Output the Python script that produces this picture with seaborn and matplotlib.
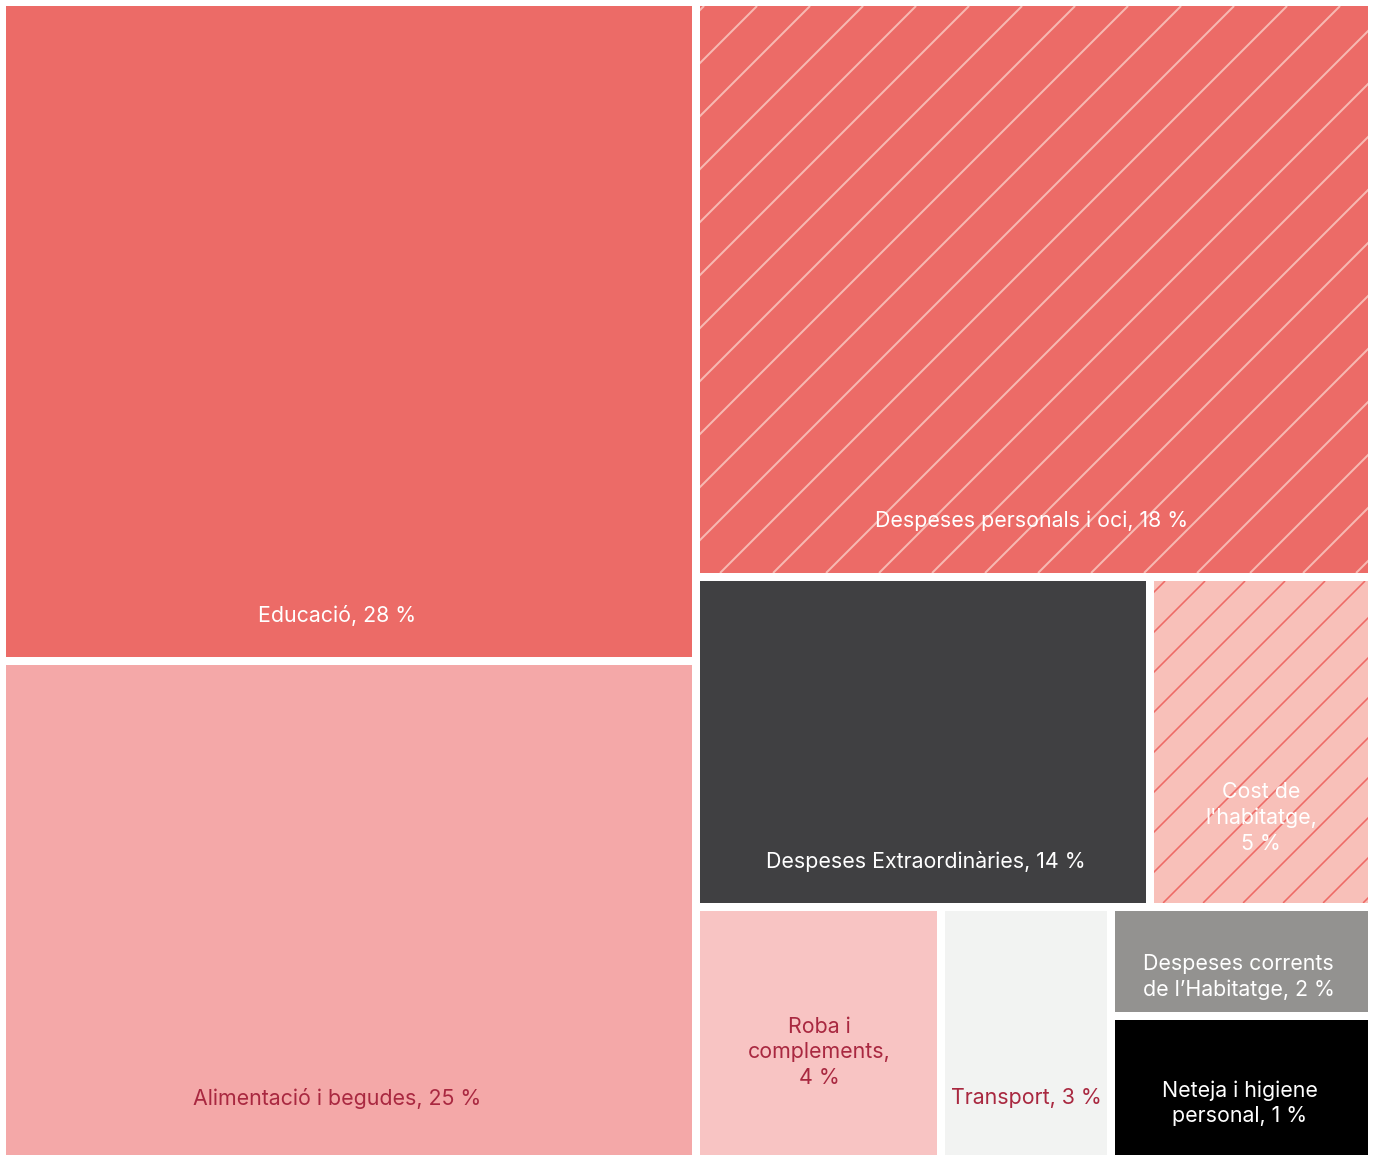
import numpy as np
import pandas as pd
import seaborn as sns
import matplotlib.pyplot as plt
from matplotlib.patches import Rectangle
from matplotlib.collections import LineCollection

# shares of area (percent of the whole block)
categories = ["Educació", "Alimentació i begudes", "Despeses personals i oci",
              "Despeses Extraordinàries", "Cost de\nl'habitatge", "Roba i\ncomplements",
              "Transport", "Despeses corrents\nde l’Habitatge", "Neteja i higiene\npersonal"]
area_share = [28.85, 21.81, 24.52, 9.45, 4.62, 3.90, 2.70, 1.80, 2.35]
pct_label = [28, 25, 18, 14, 5, 4, 3, 2, 1]
pct_sep = [" ", " ", " ", " ", "\n", "\n", " ", " ", " "]

# nesting of the treemap (indices into the lists above), splits alternate x / y
tree = [[0, 1], [2, [3, 4], [5, 6, [7, 8]]]]

fills = ["#EC6B67", "#F4A8A8", "#EC6B67", "#404042", "#F8C0B9",
         "#F8C4C3", "#F2F3F2", "#939290", "#000000"]
# diagonal stripes: (colour, spacing px, width px, phase px)
stripes = {2: ("#F7B9B2", 53, 2.0, 4), 4: ("#EE6A66", 40, 1.6, 11)}
text_cols = ["white", "#A92840", "white", "white", "white",
             "#A92840", "#A92840", "white", "white"]
label_pos = [0.937, 0.885, 0.907, 0.872, 0.735, 0.58, 0.765, 0.655, 0.615]
label_dx = [-12, -12, -2, 3, 0, 1, 0, -3, -2]

df = pd.DataFrame({"cat": categories, "share": area_share, "pct": pct_label})

W, H = 1375, 1155
GAP = 8
DPI = 200


def weight(node):
    if isinstance(node, list):
        return sum(weight(n) for n in node)
    return df["share"][node]


def layout(node, x0, y0, x1, y1, horiz, out):
    if not isinstance(node, list):
        out[node] = (x0, y0, x1, y1)
        return
    total = weight(node)
    pos = x0 if horiz else y0
    for child in node:
        frac = weight(child) / total
        if horiz:
            nxt = pos + (x1 - x0) * frac
            layout(child, pos, y0, nxt, y1, not horiz, out)
        else:
            nxt = pos + (y1 - y0) * frac
            layout(child, x0, pos, x1, nxt, not horiz, out)
        pos = nxt


sns.set_theme(style="white")
plt.rcParams["font.family"] = ["Inter", "DejaVu Sans"]

fig = plt.figure(figsize=(W / DPI, H / DPI), dpi=DPI)
ax = fig.add_axes([0, 0, 1, 1])
ax.set_xlim(0, W)
ax.set_ylim(H, 0)
ax.axis("off")

rects = {}
layout(tree, 2, 2, W - 3, H + 4, True, rects)

for i, row in df.iterrows():
    x0, y0, x1, y1 = rects[i]
    x0, y0, x1, y1 = x0 + GAP / 2, y0 + GAP / 2, x1 - GAP / 2, y1 - GAP / 2
    patch = Rectangle((x0, y0), x1 - x0, y1 - y0, facecolor=fills[i],
                      edgecolor="none", linewidth=0)
    ax.add_patch(patch)
    if i in stripes:
        col, step, lw, phase = stripes[i]
        consts = np.arange(x0 + y0 + phase, x1 + y1, step)
        segs = [[(c - y1, y1), (c - y0, y0)] for c in consts]
        lc = LineCollection(segs, colors=col, linewidths=lw * 72 / DPI)
        ax.add_collection(lc)
        lc.set_clip_path(patch)
    label = f"{row['cat']},{pct_sep[i]}{row['pct']} %"
    ax.text((x0 + x1) / 2 + label_dx[i], y0 + (y1 - y0) * label_pos[i], label,
            ha="center", va="center", color=text_cols[i], fontsize=7.7,
            linespacing=1.35, multialignment="center")

fig.savefig("out.png", dpi=DPI)
